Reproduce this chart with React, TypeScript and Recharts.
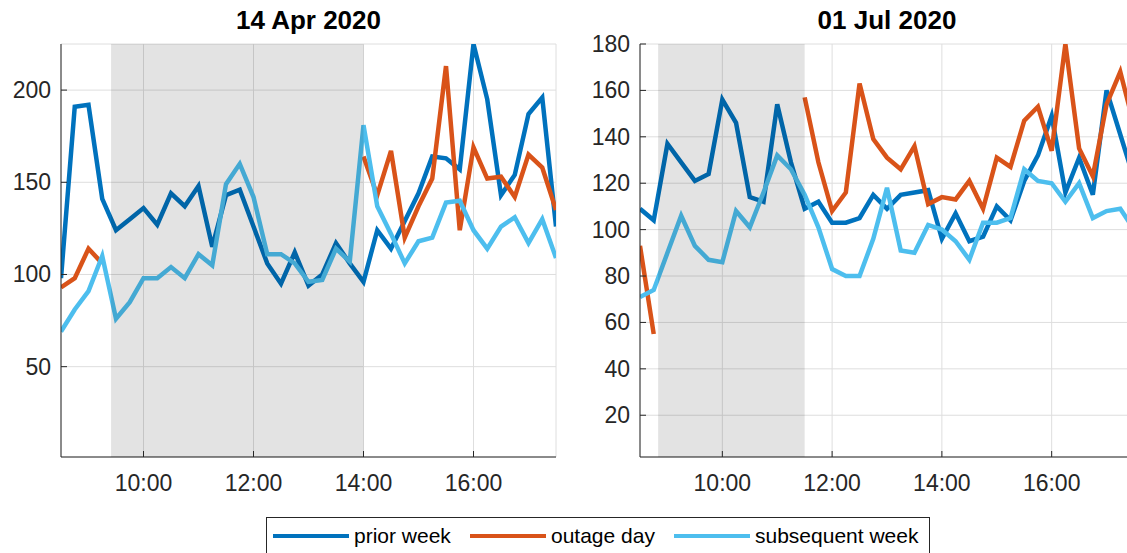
import React from 'react';
import { LineChart, Line, XAxis, YAxis, CartesianGrid, ReferenceArea } from 'recharts';

const times = [
  "08:30", "08:45", "09:00", "09:15", "09:30", "09:45", "10:00", "10:15", "10:30", "10:45",
  "11:00", "11:15", "11:30", "11:45", "12:00", "12:15", "12:30", "12:45", "13:00", "13:15",
  "13:30", "13:45", "14:00", "14:15", "14:30", "14:45", "15:00", "15:15", "15:30", "15:45",
  "16:00", "16:15", "16:30", "16:45", "17:00", "17:15", "17:30"
];

// 14 Apr 2020
const aprPrior = [
  98, 191, 192, 141, 124, 130, 136, 127, 144, 137,
  148, 115, 143, 146, 126, 106, 95, 112, 94, 100,
  117, 106, 96, 124, 114, 129, 144, 164, 163, 157,
  225, 195, 143, 154, 187, 196, 126
];
const aprOutage = [
  93, 98, 114, 106, null, null, null, null, null, null,
  null, null, null, null, null, null, null, null, null, null,
  null, null, 164, 143, 167, 120, 137, 152, 213, 124,
  169, 152, 153, 142, 165, 158, 135
];
const aprSubsequent = [
  69, 81, 91, 110, 76, 85, 98, 98, 104, 98,
  111, 105, 149, 160, 142, 111, 111, 106, 96, 97,
  114, 107, 181, 137, 122, 106, 118, 120, 139, 140,
  124, 114, 126, 131, 117, 130, 109
];

// 01 Jul 2020
const julPrior = [
  109, 104, 137, 129, 121, 124, 156, 146, 114, 112,
  154, 129, 109, 112, 103, 103, 105, 115, 109, 115,
  116, 117, 96, 107, 95, 97, 110, 104, 121, 132,
  149, 116, 131, 115, 160, 141, 122
];
const julOutage = [
  93, 55, null, null, null, null, null, null, null, null,
  null, null, 157, 129, 108, 116, 163, 139, 131, 126,
  136, 111, 114, 113, 121, 109, 131, 127, 147, 153,
  134, 180, 135, 123, 154, 168, 145
];
const julSubsequent = [
  71, 74, 90, 106, 93, 87, 86, 108, 101, 116,
  132, 126, 115, 101, 83, 80, 80, 96, 118, 91,
  90, 102, 100, 95, 87, 103, 103, 105, 126, 121,
  120, 112, 120, 105, 108, 109, 100
];

const hourTicks = [10, 12, 14, 16];
const aprTicks = [50, 100, 150, 200];
const julTicks = [20, 40, 60, 80, 100, 120, 140, 160, 180];

const colors = { prior: "#0072BD", outage: "#D95319", subsequent: "#4DBEEE" };
const FONT = '"Liberation Sans", Arial, Helvetica, sans-serif';
const INK = "#262626";

const toHours = (s: string) => {
  const [h, m] = s.split(":").map(Number);
  return h + m / 60;
};

const buildRows = (prior: (number | null)[], outage: (number | null)[], subsequent: (number | null)[]) =>
  times.map((s, i) => ({ t: toHours(s), prior: prior[i], outage: outage[i], subsequent: subsequent[i] }));

const XTick = (props: any) => {
  const { x, y, payload } = props;
  return (
    <g>
      <line x1={x} x2={x} y1={y} y2={y - 6} stroke={INK} />
      <text x={x} y={y + 34} textAnchor="middle" fill={INK} fontSize={23} fontFamily={FONT}>
        {`${payload.value}:00`}
      </text>
    </g>
  );
};

const YTick = (props: any) => {
  const { x, y, payload } = props;
  return (
    <g>
      <line x1={x} x2={x + 6} y1={y} y2={y} stroke={INK} />
      <text x={x - 10} y={y + 8} textAnchor="end" fill={INK} fontSize={23} fontFamily={FONT}>
        {payload.value}
      </text>
    </g>
  );
};

interface PanelProps {
  title: string;
  rows: any[];
  left: number;
  plotWidth: number;
  yDomain: [number, number];
  yTicks: number[];
  shade: [number, number];
}

const Panel: React.FC<PanelProps> = ({ title, rows, left, plotWidth, yDomain, yTicks, shade }) => {
  const yAxisW = 61;
  return (
    <>
      <div
        style={{
          position: "absolute",
          left: left + yAxisW,
          width: plotWidth,
          top: 6,
          textAlign: "center",
          fontFamily: FONT,
          fontWeight: "bold",
          fontSize: 26,
          lineHeight: "28px",
          color: "#000"
        }}
      >
        {title}
      </div>
      <div style={{ position: "absolute", left, top: 0 }}>
        <LineChart
          width={yAxisW + plotWidth + 4}
          height={500}
          data={rows}
          margin={{ top: 44, right: 4, left: 0, bottom: 0 }}
        >
          <CartesianGrid stroke="#dedede" strokeWidth={1} />
          <XAxis
            dataKey="t"
            type="number"
            domain={[8.5, 17.5]}
            ticks={hourTicks}
            allowDataOverflow
            height={43}
            tickSize={0}
            tickMargin={0}
            tickLine={false}
            axisLine={{ stroke: INK }}
            tick={XTick}
          />
          <YAxis
            type="number"
            domain={yDomain}
            ticks={yTicks}
            allowDataOverflow
            width={yAxisW}
            tickSize={0}
            tickMargin={0}
            tickLine={false}
            axisLine={{ stroke: INK }}
            tick={YTick}
          />
          <Line dataKey="prior" stroke={colors.prior} strokeWidth={4.5} dot={false} isAnimationActive={false} connectNulls={false} />
          <Line dataKey="outage" stroke={colors.outage} strokeWidth={4.5} dot={false} isAnimationActive={false} connectNulls={false} />
          <Line dataKey="subsequent" stroke={colors.subsequent} strokeWidth={4.5} dot={false} isAnimationActive={false} connectNulls={false} />
          <ReferenceArea
            x1={shade[0]}
            x2={shade[1]}
            y1={yDomain[0]}
            y2={yDomain[1]}
            fill="#000"
            fillOpacity={0.11}
            stroke="none"
            {...({ zIndex: 1000 } as any)}
          />
        </LineChart>
      </div>
    </>
  );
};

const legendItems = [
  { label: "prior week", color: colors.prior, lineX: 273, textX: 354 },
  { label: "outage day", color: colors.outage, lineX: 470, textX: 551 },
  { label: "subsequent week", color: colors.subsequent, lineX: 674, textX: 755 }
];

export default function App() {
  return (
    <div
      style={{
        position: "fixed",
        left: 0,
        top: 0,
        width: 1127,
        height: 553,
        overflow: "hidden",
        background: "#fff",
        fontFamily: FONT
      }}
    >
      <Panel
        title="14 Apr 2020"
        rows={buildRows(aprPrior, aprOutage, aprSubsequent)}
        left={0}
        plotWidth={495}
        yDomain={[1, 225]}
        yTicks={aprTicks}
        shade={[9.41, 14]}
      />
      <Panel
        title="01 Jul 2020"
        rows={buildRows(julPrior, julOutage, julSubsequent)}
        left={579}
        plotWidth={494}
        yDomain={[2, 180]}
        yTicks={julTicks}
        shade={[8.83, 11.5]}
      />
      <div
        style={{
          position: "absolute",
          left: 266,
          top: 517,
          width: 664,
          height: 60,
          border: `1px solid ${INK}`,
          boxSizing: "border-box",
          background: "#fff"
        }}
      >
        {legendItems.map((it) => (
          <React.Fragment key={it.label}>
            <div
              style={{
                position: "absolute",
                left: it.lineX - 267,
                top: 535.7 - 518 - 2,
                width: 76,
                height: 4,
                background: it.color
              }}
            />
            <div
              style={{
                position: "absolute",
                left: it.textX - 267,
                top: 542.7 - 518 - 18,
                fontSize: 21,
                lineHeight: "21px",
                color: "#000",
                whiteSpace: "nowrap"
              }}
            >
              {it.label}
            </div>
          </React.Fragment>
        ))}
      </div>
    </div>
  );
}
